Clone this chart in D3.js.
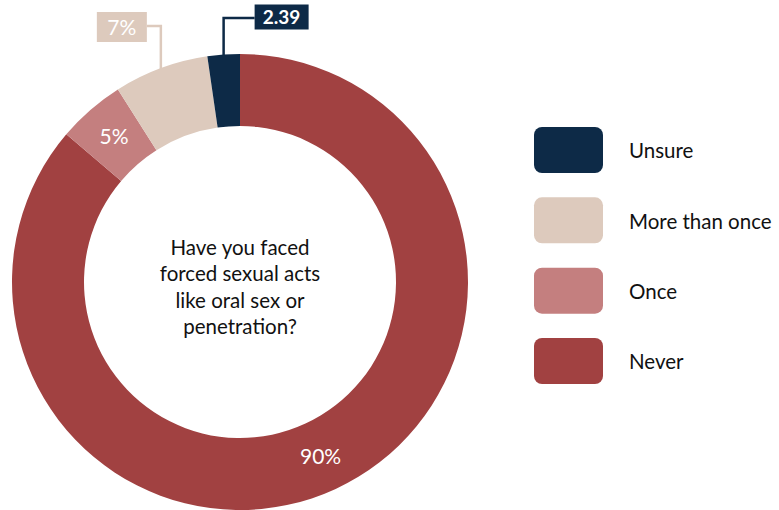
<!DOCTYPE html>
<html>
<head>
<meta charset="utf-8">
<script src="https://cdn.jsdelivr.net/npm/d3@7"></script>
<style>
  html, body { margin: 0; padding: 0; background: #ffffff; }
  svg { display: block; font-family: Lato, "Open Sans", sans-serif; }
</style>
</head>
<body>
<svg id="chart" width="779" height="510"></svg>
<script>
// Answers, in drawing order (clockwise from 12 o'clock)
const categories = ["Never", "Once", "More than once", "Unsure"];
const values = [90, 5, 7, 2.39];
const valueLabels = ["90%", "5%", "7%", "2.39"];
const colors = ["#A14141", "#C47F7F", "#DDCABD", "#0D2A47"];
// Legend runs top to bottom in this order
const legendOrder = ["Unsure", "More than once", "Once", "Never"];
const questionLines = ["Have you faced", "forced sexual acts", "like oral sex or", "penetration?"];
// Slices whose value sits in a callout box above the ring
const calloutCategories = ["More than once", "Unsure"];

const svg = d3.select("#chart");
const cx = 240, cy = 282, outerR = 228, innerR = 156;

const color = d3.scaleOrdinal().domain(categories).range(colors);

const pie = d3.pie().sort(null).value(d => d.value);
const data = categories.map((c, i) => ({ category: c, value: values[i], label: valueLabels[i] }));
const arcs = pie(data);

const arc = d3.arc().innerRadius(innerR).outerRadius(outerR);

const g = svg.append("g").attr("transform", `translate(${cx},${cy})`);

g.selectAll("path.slice")
  .data(arcs)
  .join("path")
  .attr("class", "slice")
  .attr("d", arc)
  .attr("fill", d => color(d.data.category));

// In-ring value labels
g.selectAll("text.inlabel")
  .data(arcs.filter(d => !calloutCategories.includes(d.data.category)))
  .join("text")
  .attr("class", "inlabel")
  .attr("transform", d => `translate(${arc.centroid(d)})`)
  .attr("text-anchor", "middle")
  .attr("dy", "0.35em")
  .attr("fill", "#ffffff")
  .style("font-size", "21px")
  .text(d => d.data.label);

// Callout labels with elbow leaders
const calloutStyle = {
  "More than once": { side: -1, gap: 14, w: 50, h: 30, boxMid: -255, lineY: -256, size: "21px", weight: "400" },
  "Unsure":         { side: 1,  gap: 31, w: 54, h: 25, boxMid: -265, lineY: -264, size: "19px", weight: "700" }
};
arcs.filter(d => calloutCategories.includes(d.data.category)).forEach(d => {
  const s = calloutStyle[d.data.category];
  const mid = (d.startAngle + d.endAngle) / 2;
  const ax = outerR * Math.sin(mid);
  const ay = -outerR * Math.cos(mid);
  const bx = s.side > 0 ? ax + s.gap : ax - s.gap - s.w;
  const fill = color(d.data.category);
  const edgeX = s.side > 0 ? bx : bx + s.w;
  g.append("path")
    .attr("d", d3.line()([[ax, ay + 1], [ax, s.lineY], [edgeX, s.lineY]]))
    .attr("fill", "none")
    .attr("stroke", fill)
    .attr("stroke-width", 2.5);
  g.append("rect")
    .attr("x", bx).attr("y", s.boxMid - s.h / 2)
    .attr("width", s.w).attr("height", s.h)
    .attr("fill", fill);
  g.append("text")
    .attr("x", bx + s.w / 2).attr("y", s.boxMid)
    .attr("dy", "0.36em")
    .attr("text-anchor", "middle")
    .attr("fill", "#ffffff")
    .style("font-size", s.size)
    .style("font-weight", s.weight)
    .text(d.data.label);
});

// Question in the hole
const q = g.append("text")
  .attr("text-anchor", "middle")
  .attr("fill", "#111111")
  .style("font-size", "20.5px");
questionLines.forEach((line, i) => {
  q.append("tspan")
    .attr("x", 0)
    .attr("y", -27 + i * 26.3)
    .text(line);
});

// Legend
const legendY = d3.scalePoint().domain(legendOrder).range([150, 361]);
const legend = svg.append("g");
const item = legend.selectAll("g.item")
  .data(legendOrder)
  .join("g")
  .attr("class", "item")
  .attr("transform", d => `translate(534,${legendY(d)})`);
item.append("rect")
  .attr("x", 0).attr("y", -23)
  .attr("width", 69).attr("height", 46)
  .attr("rx", 8).attr("ry", 8)
  .attr("fill", d => color(d));
item.append("text")
  .attr("x", 95).attr("y", 1)
  .attr("dy", "0.35em")
  .attr("fill", "#111111")
  .style("font-size", "20.5px")
  .text(d => d);
</script>
</body>
</html>
